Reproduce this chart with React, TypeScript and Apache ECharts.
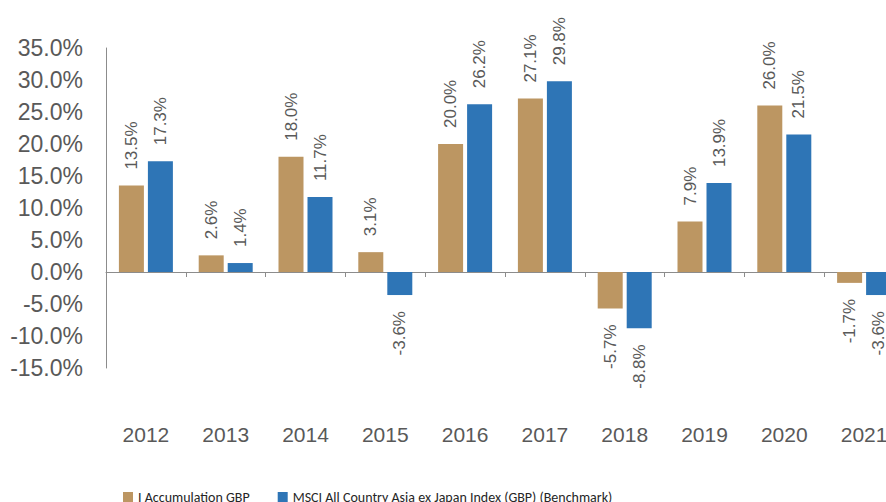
import React, { useEffect, useRef } from "react";
import * as echarts from "echarts";

const years = ["2012", "2013", "2014", "2015", "2016", "2017", "2018", "2019", "2020", "2021"];
const fundName = "I Accumulation GBP";
const benchName = "MSCI All Country Asia ex Japan Index (GBP) (Benchmark)";
const fundValues = [13.5, 2.6, 18.0, 3.1, 20.0, 27.1, -5.7, 7.9, 26.0, -1.7];
const benchValues = [17.3, 1.4, 11.7, -3.6, 26.2, 29.8, -8.8, 13.9, 21.5, -3.6];

const TEXT = "#595959";
const FONT = "'Liberation Sans', Arial, sans-serif";

function toData(vals: number[]) {
  return vals.map((v) =>
    v < 0
      ? { value: v, label: { position: "bottom", align: "right" } }
      : { value: v }
  );
}

export default function App() {
  const ref = useRef<HTMLDivElement>(null);
  useEffect(() => {
    if (!ref.current) return;
    const chart = echarts.init(ref.current, null, { renderer: "svg" });
    const label = {
      show: true,
      position: "top",
      distance: 16,
      rotate: 90,
      align: "left",
      verticalAlign: "middle",
      color: TEXT,
      fontSize: 17,
      fontFamily: FONT,
      formatter: (p: any) => `${Number(p.value).toFixed(1)}%`,
    };
    chart.setOption({
      animation: false,
      backgroundColor: "#ffffff",
      grid: { left: 106, top: 48, width: 798, height: 320, containLabel: false, outerBoundsMode: "none" },
      legend: {
        left: 123,
        top: 490,
        padding: 0,
        itemGap: 28,
        itemWidth: 10,
        itemHeight: 10,
        icon: "rect",
        textStyle: { color: "#262626", fontSize: 14, fontFamily: "Carlito, 'Liberation Sans Narrow', 'Open Sans', sans-serif" },
        data: [fundName, benchName],
      },
      xAxis: {
        type: "category",
        data: years,
        axisLine: { onZero: true, lineStyle: { color: "#8c8c8c", width: 1 } },
        axisTick: { show: true, length: 5, lineStyle: { color: "#8c8c8c" } },
        axisLabel: { margin: 56, color: TEXT, fontSize: 21, fontFamily: FONT },
        splitLine: { show: false },
      },
      yAxis: {
        type: "value",
        min: -15,
        max: 35,
        interval: 5,
        axisLine: { show: true, lineStyle: { color: "#8c8c8c", width: 1 } },
        axisTick: { show: false },
        splitLine: { show: false },
        axisLabel: {
          margin: 23,
          color: TEXT,
          fontSize: 23,
          fontFamily: FONT,
          formatter: (v: number) => `${v.toFixed(1)}%`,
        },
      },
      series: [
        {
          name: fundName,
          type: "bar",
          data: toData(fundValues),
          barWidth: 25,
          barGap: "16%",
          itemStyle: { color: "#BC9662" },
          label,
        },
        {
          name: benchName,
          type: "bar",
          data: toData(benchValues),
          barWidth: 25,
          barGap: "16%",
          itemStyle: { color: "#2E75B6" },
          label,
        },
      ],
    });
    return () => chart.dispose();
  }, []);
  return (
    <div
      ref={ref}
      style={{ position: "fixed", left: 0, top: 0, width: 886, height: 502 }}
    />
  );
}
